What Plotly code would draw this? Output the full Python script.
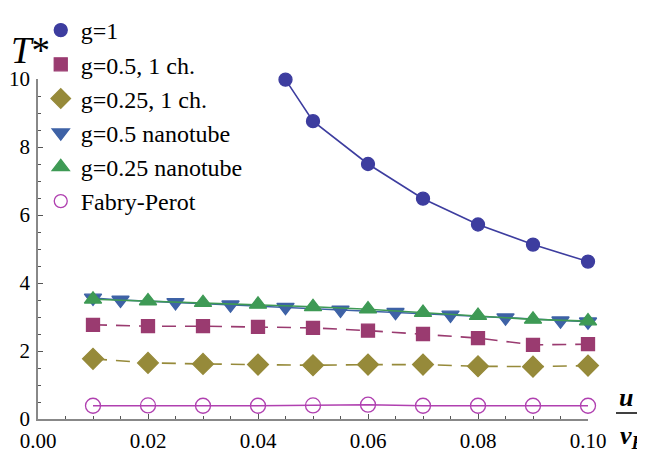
import plotly.graph_objects as go

x_g1 = [0.045, 0.05, 0.06, 0.07, 0.08, 0.09, 0.10]
y_g1 = [9.98, 8.76, 7.50, 6.48, 5.72, 5.13, 4.63]

x_ch = [0.01, 0.02, 0.03, 0.04, 0.05, 0.06, 0.07, 0.08, 0.09, 0.10]
y_g05_ch = [2.77, 2.73, 2.73, 2.71, 2.68, 2.60, 2.50, 2.38, 2.18, 2.20]
y_g025_ch = [1.77, 1.65, 1.62, 1.60, 1.58, 1.60, 1.60, 1.55, 1.54, 1.57]

x_nt05 = [0.01, 0.015, 0.025, 0.035, 0.045, 0.055, 0.065, 0.075, 0.085, 0.095, 0.10]
y_nt05 = [3.56, 3.50, 3.43, 3.36, 3.29, 3.21, 3.14, 3.06, 2.98, 2.89, 2.86]

x_nt025 = [0.01, 0.02, 0.03, 0.04, 0.05, 0.06, 0.07, 0.08, 0.09, 0.10]
y_nt025 = [3.52, 3.47, 3.42, 3.37, 3.30, 3.23, 3.13, 3.04, 2.93, 2.88]

x_fp = [0.01, 0.02, 0.03, 0.04, 0.05, 0.06, 0.07, 0.08, 0.09, 0.10]
y_fp = [0.39, 0.40, 0.39, 0.39, 0.40, 0.42, 0.39, 0.39, 0.39, 0.39]

names = ["g=1", "g=0.5, 1 ch.", "g=0.25, 1 ch.", "g=0.5 nanotube", "g=0.25 nanotube", "Fabry-Perot"]
colors = ["#3D3D9F", "#9A3B70", "#968A3A", "#3E62A6", "#3E9A55", "#B040B0"]

serif = "Liberation Serif"
fig = go.Figure()

def data_trace(x, y, color, symbol, size, dash, line_w=1.6):
    marker = dict(color=color, symbol=symbol, size=size, line=dict(color=color, width=1.3))
    fig.add_trace(go.Scatter(x=x, y=y, mode="lines+markers", showlegend=False,
                             line=dict(color=color, width=line_w, dash=dash),
                             marker=marker, cliponaxis=False))

data_trace(x_fp, y_fp, colors[5], "circle-open", 15, "solid")
data_trace(x_ch, y_g025_ch, colors[2], "diamond", 16, "14px,9px")
data_trace(x_ch, y_g05_ch, colors[1], "square", 13, "14px,9px")
data_trace(x_nt05, y_nt05, colors[3], "triangle-down", 15, "solid")
data_trace(x_nt025, y_nt025, colors[4], "triangle-up", 15, "solid")
data_trace(x_g1, y_g1, colors[0], "circle", 13, "solid")

leg_symbols = ["circle", "square", "diamond", "triangle-down", "triangle-up", "circle-open"]
leg_sizes = [13, 13, 15, 15, 15, 13]
for i, (n, c, s, sz) in enumerate(zip(names, colors, leg_symbols, leg_sizes)):
    fig.add_trace(go.Scatter(x=[None], y=[None], mode="markers", name=n,
                             marker=dict(color=c, symbol=s, size=sz,
                                         line=dict(color=c, width=1.3))))

axis_common = dict(showgrid=False, zeroline=False, showline=True,
                   linecolor="#888888", linewidth=1.5, ticks="inside",
                   ticklen=5, tickcolor="#555555", tickwidth=1,
                   tickfont=dict(family=serif, size=21, color="black"),
                   minor=dict(ticks="inside", ticklen=3, tickcolor="#555555", tickwidth=1))

fig.update_xaxes(range=[0, 0.1], tickvals=[0, 0.02, 0.04, 0.06, 0.08, 0.10],
                 ticktext=["0.00", "0.02", "0.04", "0.06", "0.08", "0.10"],
                 minor_dtick=0.005, ticklabelstandoff=2, **axis_common)
fig.update_yaxes(range=[0, 10], tickvals=[0, 2, 4, 6, 8, 10],
                 ticktext=["0", "2", "4", "6", "8", "10"],
                 minor_dtick=0.5, ticklabelstandoff=2, **axis_common)

# the page body adds an 8px offset, so the figure is laid out 8px smaller
fig.update_layout(
    width=637, height=442,
    margin=dict(l=30, r=57, t=71, b=31, autoexpand=False),
    plot_bgcolor="white", paper_bgcolor="white",
    font=dict(family=serif, color="black"),
    legend=dict(x=0.005, y=1.0 + 71 / 340, xanchor="left", yanchor="top",
                font=dict(family=serif, size=24, color="black"),
                bgcolor="rgba(0,0,0,0)", tracegroupgap=0, itemwidth=30),
    annotations=[
        dict(text="<i>T</i>*", xref="paper", yref="paper",
             x=(9 - 38) / 550, y=(419 - 50) / 340, xanchor="left", yanchor="middle",
             showarrow=False, font=dict(family=serif, size=37, color="black")),
        dict(text="<b><i>u</i></b>", xref="paper", yref="paper",
             x=(626 - 38) / 550, y=(419 - 397) / 340, xanchor="center", yanchor="middle",
             showarrow=False, font=dict(family=serif, size=26, color="black")),
        dict(text="<b><i>v</i></b><sub><b><i>F</i></b></sub>", xref="paper", yref="paper",
             x=(632 - 38) / 550, y=(419 - 437) / 340, xanchor="center", yanchor="middle",
             showarrow=False, font=dict(family=serif, size=26, color="black")),
    ],
    shapes=[dict(type="line", xref="paper", yref="paper",
                 x0=(616 - 38) / 550, x1=(645 - 38) / 550,
                 y0=(419 - 413) / 340, y1=(419 - 413) / 340,
                 line=dict(color="black", width=1.5))],
)

fig.write_html("out.html")
